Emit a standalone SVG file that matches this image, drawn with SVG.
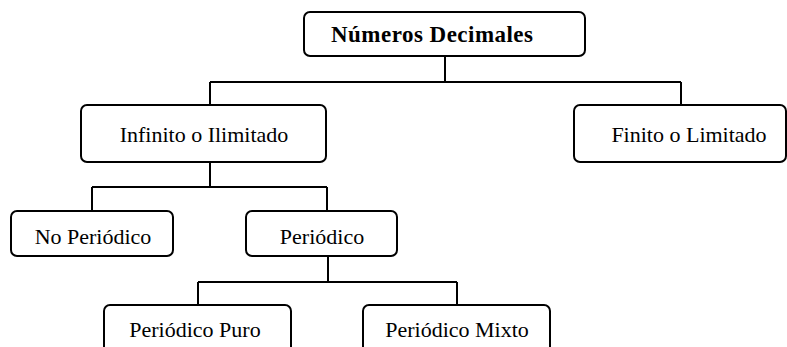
<svg xmlns="http://www.w3.org/2000/svg" width="787" height="347" viewBox="0 0 787 347">
<style>
.box{fill:#fff;stroke:#000;stroke-width:2}
.ln{fill:none;stroke:#000;stroke-width:2}
text{font-family:"Liberation Serif","Times New Roman",serif;font-size:22px;fill:#000;text-anchor:middle}
.b{font-weight:bold;font-size:23px}
</style>
<rect width="787" height="347" fill="#fff"/>
<g id="connectors">
<path class="ln" d="M445,56 V82 M210,82 H681 M210,82 V105 M681,82 V105"/>
<path class="ln" d="M210,162 V187 M92,187 H327 M92,187 V211 M327,187 V211"/>
<path class="ln" d="M328,256 V282 M198,282 H457 M198,282 V305 M457,282 V305"/>
</g>
<g id="n-decimales">
<rect class="box" x="304" y="12" width="281" height="44" rx="6"/>
<text class="b" x="432" y="42" textLength="202" lengthAdjust="spacing">Números Decimales</text>
</g>
<g id="n-infinito">
<rect class="box" x="81" y="105" width="245" height="57" rx="6"/>
<text x="204" y="142">Infinito o Ilimitado</text>
</g>
<g id="n-finito">
<rect class="box" x="574" y="105" width="212" height="57" rx="6"/>
<text x="689" y="142">Finito o Limitado</text>
</g>
<g id="n-noperiodico">
<rect class="box" x="11" y="211" width="162" height="45" rx="6"/>
<text x="93" y="244">No Periódico</text>
</g>
<g id="n-periodico">
<rect class="box" x="246" y="211" width="151" height="45" rx="6"/>
<text x="322" y="244">Periódico</text>
</g>
<g id="n-puro">
<rect class="box" x="104" y="305" width="187" height="50" rx="6"/>
<text x="195" y="337">Periódico Puro</text>
</g>
<g id="n-mixto">
<rect class="box" x="363" y="305" width="187" height="50" rx="6"/>
<text x="457" y="337">Periódico Mixto</text>
</g>
</svg>
